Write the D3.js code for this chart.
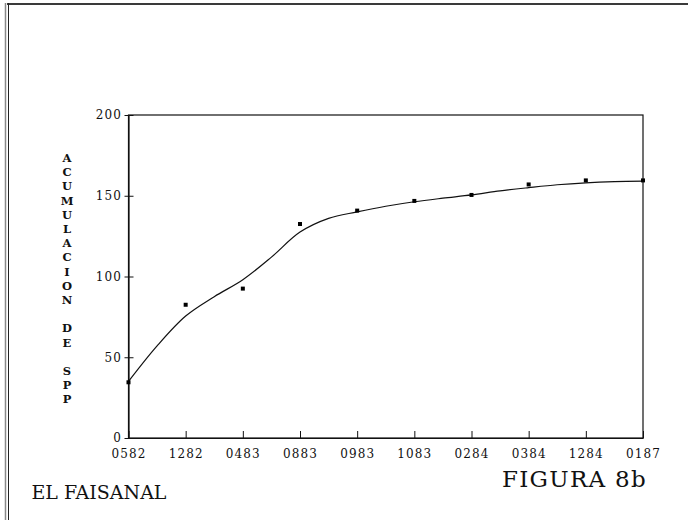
<!DOCTYPE html>
<html>
<head>
<meta charset="utf-8">
<script src="https://cdn.jsdelivr.net/npm/d3@7"></script>
<style>
  body { margin: 0; background: #fff; }
  svg { display: block; }
  .tick text { font-family: "DejaVu Serif", serif; font-size: 12px; letter-spacing: 1.1px; fill: #111; }
</style>
</head>
<body>
<div class="chart"></div>
<script>
// sampling dates (mmyy)
var dates = ["0582", "1282", "0483", "0883", "0983", "1083", "0284", "0384", "1284", "0187"];
// observed cumulative species
var observed = [34.5, 82.5, 92.5, 132.5, 140.8, 146.8, 150.5, 157, 159.5, 159.5];
// fitted curve, read at every half step of the date axis
var fitIndex = [0, 0.5, 1, 1.5, 2, 2.5, 3, 3.5, 4, 4.5, 5, 5.5, 6, 6.5, 7, 7.5, 8, 8.5, 9];
var fitValue = [35, 57, 75.5, 87.5, 98, 112, 127.5, 136, 140, 143.5, 146.3, 148.5, 150.5, 153, 155, 156.8, 158, 158.7, 159];
var yTicks = [0, 50, 100, 150, 200];
var yLabel = ["ACUMULACION", "DE", "SPP"];

var svgx = 688;
var svgy = 520;
var margin = {top: 115, right: 45, bottom: 82, left: 128.5};
var w = svgx - margin.left - margin.right;
var h = svgy - margin.top - margin.bottom;

var svg = d3.select(".chart")
    .append("svg")
    .attr("width", svgx)
    .attr("height", svgy);

// scanned page border
svg.append("line")
    .attr("x1", 7).attr("x2", svgx).attr("y1", 4).attr("y2", 4)
    .attr("stroke", "#3a3a3a").attr("stroke-width", 2);
svg.append("line")
    .attr("x1", 5.5).attr("x2", 5.5).attr("y1", 3).attr("y2", svgy)
    .attr("stroke", "#888").attr("stroke-width", 1.5);
svg.append("line")
    .attr("x1", 8.5).attr("x2", 8.5).attr("y1", 3).attr("y2", svgy)
    .attr("stroke", "#222").attr("stroke-width", 1);

var plot = svg.append("g")
    .attr("transform", "translate(" + margin.left + "," + margin.top + ")");

var xscale = d3.scaleLinear().domain([0, dates.length - 1]).range([0, w]);
var yscale = d3.scaleLinear().domain([0, 200]).range([h, 0]);

// frame
plot.append("rect")
    .attr("x", 0).attr("y", 0).attr("width", w).attr("height", h)
    .attr("fill", "none").attr("stroke", "#111").attr("stroke-width", 1.2);

var xaxis = d3.axisBottom(xscale)
    .tickValues(d3.range(dates.length))
    .tickFormat(function(i) { return dates[i]; })
    .tickSize(-7)
    .tickSizeOuter(0);

var gx = plot.append("g")
    .attr("transform", "translate(0," + h + ")")
    .call(xaxis);
gx.select(".domain").attr("stroke", "#111").attr("stroke-width", 1.2);
gx.selectAll(".tick line").attr("stroke", "#111");
gx.selectAll(".tick text").attr("y", 11);

var yaxis = d3.axisLeft(yscale)
    .tickValues(yTicks)
    .tickSize(4)
    .tickSizeOuter(0);

var gy = plot.append("g").call(yaxis);
gy.select(".domain").attr("stroke", "#111").attr("stroke-width", 1.2);
gy.selectAll(".tick line").attr("stroke", "#111").attr("x2", 5).attr("x1", -4);
gy.selectAll(".tick text").attr("x", -6.5);

// fitted curve
var line = d3.line()
    .x(function(d, i) { return xscale(fitIndex[i]); })
    .y(function(d) { return yscale(d); })
    .curve(d3.curveCatmullRom);

plot.append("path")
    .datum(fitValue)
    .attr("d", line)
    .attr("fill", "none")
    .attr("stroke", "#111")
    .attr("stroke-width", 1.2);

// observed points
plot.selectAll(".pt")
    .data(observed)
    .enter()
    .append("rect")
    .attr("class", "pt")
    .attr("x", function(d, i) { return xscale(i) - 2; })
    .attr("y", function(d) { return yscale(d) - 2; })
    .attr("width", 4)
    .attr("height", 4)
    .attr("fill", "#000");

// vertical stacked y title
var letters = [];
yLabel.forEach(function(word, k) {
    if (k > 0) letters.push(" ");
    word.split("").forEach(function(c) { letters.push(c); });
});
svg.append("g")
    .selectAll("text")
    .data(letters)
    .enter()
    .append("text")
    .attr("x", 67)
    .attr("y", function(d, i) { return 158 + i * 14.2; })
    .attr("dy", "0.35em")
    .attr("text-anchor", "middle")
    .attr("font-family", "DejaVu Serif, serif")
    .attr("font-weight", "bold")
    .attr("font-size", "11.5px")
    .attr("fill", "#111")
    .text(function(d) { return d; });

svg.append("text")
    .attr("x", 647)
    .attr("y", 487)
    .attr("text-anchor", "end")
    .attr("font-family", "DejaVu Serif, serif")
    .attr("font-size", "23px")
    .attr("letter-spacing", "1.3px")
    .attr("fill", "#111")
    .text("FIGURA 8b");

svg.append("text")
    .attr("x", 31.5)
    .attr("y", 499)
    .attr("font-family", "DejaVu Serif, serif")
    .attr("font-size", "19px")
    .attr("fill", "#111")
    .text("EL FAISANAL");
</script>
</body>
</html>
